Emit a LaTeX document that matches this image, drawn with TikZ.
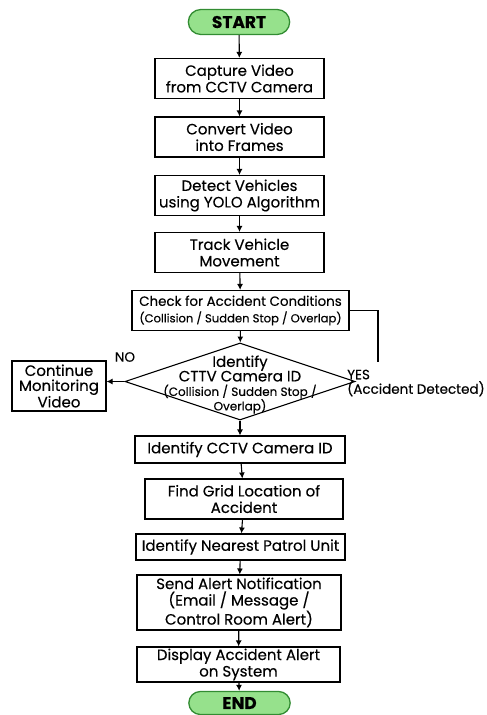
\documentclass[tikz,border=0pt]{standalone}
\usepackage{fontspec}
\setmainfont{Poppins}[FakeBold=0.3]
\usetikzlibrary{arrows.meta,positioning,shapes.geometric,shapes.misc}
\definecolor{termfill}{RGB}{150,225,140}
\definecolor{termline}{RGB}{50,140,50}
\newcommand{\paren}[1]{{\fontsize{11.6}{13.5}\selectfont #1}}
\newcommand{\dparen}[1]{{\fontsize{12}{14.5}\selectfont #1}}

\begin{document}
\begin{tikzpicture}[
  x=1pt,y=-1pt,
  box/.style={rectangle,draw,line width=1.1pt,minimum height=40pt,align=center,inner sep=1pt,font=\fontsize{15}{16.5}\selectfont},
  term/.style={rounded rectangle,draw=termline,fill=termfill,line width=1.3pt,minimum width=108pt,minimum height=25pt,font=\fontsize{17}{18}\selectfont\bfseries},
  decision/.style={diamond,draw,line width=1.1pt,minimum width=230pt,minimum height=77pt,inner sep=0pt},
  tag/.style={font=\fontsize{13.5}{14.5}\selectfont,inner sep=0pt},
  arrow/.style={-{Latex[length=6pt,width=6pt]},line width=1.1pt}
]
  \useasboundingbox (0,0) rectangle (487,715);
  \node[term] (start) at (239,22) {START};
  \node[box,minimum width=169pt] (capture) at (239.5,78.5) {Capture Video\\from CCTV Camera};
  \node[box,minimum width=169pt] (convert) at (239.5,137) {Convert Video\\into Frames};
  \node[box,minimum width=169pt] (detect) at (239.5,195.5) {Detect Vehicles\\using YOLO Algorithm};
  \node[box,minimum width=169pt] (track) at (239.5,252.5) {Track Vehicle\\Movement};
  \node[box,minimum width=217pt,font=\fontsize{13.4}{16.5}\selectfont] (check) at (240.5,310.5) {Check for Accident Conditions\\\paren{(Collision / Sudden Stop / Overlap)}};
  \node[decision,label={[align=center,font=\fontsize{15}{14.5}\selectfont,yshift=-3pt]center:Identify\\CTTV Camera ID\\\dparen{(Collision / Sudden Stop /}\\\dparen{Overlap)}}] (decide) at (240,381.5) {};
  \node[box,minimum width=94pt,minimum height=50pt,font=\fontsize{15}{15}\selectfont] (monitor) at (59,386) {Continue\\Monitoring\\Video};
  \node[box,minimum width=210pt,minimum height=27pt] (camid) at (240,449.5) {Identify CCTV Camera ID};
  \node[box,minimum width=198pt] (grid) at (244,499) {Find Grid Location of\\Accident};
  \node[box,minimum width=209pt,minimum height=26pt] (patrol) at (240.5,547) {Identify Nearest Patrol Unit};
  \node[box,minimum width=204pt,minimum height=55pt] (alert) at (239,602.5) {Send Alert Notification\\(Email / Message /\\Control Room Alert)};
  \node[box,minimum width=203pt,minimum height=35pt] (display) at (238.5,664.5) {Display Accident Alert\\on System};
  \node[term,minimum height=23pt] (stop) at (239.5,703) {END};
  \node[tag] (no) at (125,357) {NO};
  \node[tag,anchor=west,align=left] (yes) at (347,383) {YES\\(Accident Detected)};
  \coordinate (yesend) at (378,362);

  \draw[arrow] (start) -- (capture);
  \draw[arrow] (capture) -- (convert);
  \draw[arrow] (convert) -- (detect);
  \draw[arrow] (detect) -- (track);
  \draw[arrow] (track) -- (check);
  \draw[arrow] (check) -- (decide);
  \draw[line width=1.1pt] (check.east) -| (yesend);
  \draw[arrow] (decide.west) -- (decide.west -| monitor.east);
  \draw[arrow] (decide) -- (camid);
  \draw[arrow] (camid) -- (grid);
  \draw[arrow] (grid) -- (patrol);
  \draw[arrow] (patrol) -- (alert);
  \draw[arrow] (alert) -- (display);
  \draw[arrow] (display) -- (stop);
\end{tikzpicture}
\end{document}
